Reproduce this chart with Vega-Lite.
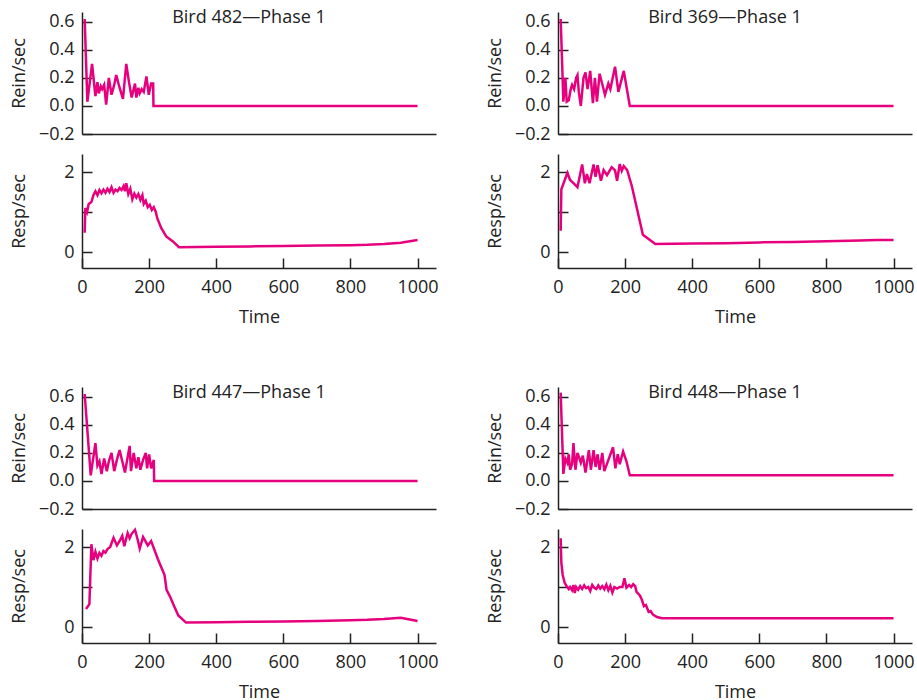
{
  "$schema": "https://vega.github.io/schema/vega-lite/v6.json",
  "padding": {"left": 10, "top": 9, "right": 0, "bottom": 0},
  "background": "white",
  "datasets": {
    "rein482": [
      {"t": 8, "v": 0.62}, {"t": 16, "v": 0.03}, {"t": 30, "v": 0.30}, {"t": 40, "v": 0.07}, {"t": 46, "v": 0.17},
      {"t": 50, "v": 0.09}, {"t": 56, "v": 0.14}, {"t": 60, "v": 0.12}, {"t": 66, "v": 0.15}, {"t": 72, "v": 0.01},
      {"t": 80, "v": 0.20}, {"t": 88, "v": 0.08}, {"t": 96, "v": 0.15}, {"t": 102, "v": 0.22}, {"t": 112, "v": 0.13},
      {"t": 122, "v": 0.05}, {"t": 132, "v": 0.30}, {"t": 140, "v": 0.17}, {"t": 148, "v": 0.06}, {"t": 154, "v": 0.12},
      {"t": 158, "v": 0.16}, {"t": 162, "v": 0.06}, {"t": 168, "v": 0.13}, {"t": 172, "v": 0.09}, {"t": 178, "v": 0.12},
      {"t": 184, "v": 0.10}, {"t": 192, "v": 0.21}, {"t": 199, "v": 0.08}, {"t": 206, "v": 0.16}, {"t": 212, "v": 0.16},
      {"t": 213, "v": 0.0}, {"t": 1000, "v": 0.0}
    ],
    "resp482": [
      {"t": 8, "v": 0.48}, {"t": 10, "v": 1.10}, {"t": 15, "v": 1.00}, {"t": 20, "v": 1.20}, {"t": 28, "v": 1.25},
      {"t": 34, "v": 1.42}, {"t": 40, "v": 1.52}, {"t": 46, "v": 1.42}, {"t": 52, "v": 1.55}, {"t": 58, "v": 1.47},
      {"t": 64, "v": 1.56}, {"t": 70, "v": 1.48}, {"t": 76, "v": 1.58}, {"t": 82, "v": 1.50}, {"t": 88, "v": 1.62},
      {"t": 94, "v": 1.48}, {"t": 100, "v": 1.56}, {"t": 106, "v": 1.52}, {"t": 112, "v": 1.60}, {"t": 118, "v": 1.55},
      {"t": 124, "v": 1.65}, {"t": 128, "v": 1.52}, {"t": 132, "v": 1.72}, {"t": 138, "v": 1.45}, {"t": 144, "v": 1.58},
      {"t": 150, "v": 1.32}, {"t": 156, "v": 1.46}, {"t": 162, "v": 1.36}, {"t": 168, "v": 1.45}, {"t": 174, "v": 1.30},
      {"t": 180, "v": 1.42}, {"t": 184, "v": 1.20}, {"t": 190, "v": 1.28}, {"t": 196, "v": 1.12}, {"t": 202, "v": 1.18},
      {"t": 208, "v": 1.05}, {"t": 214, "v": 1.12}, {"t": 220, "v": 1.00}, {"t": 224, "v": 0.85}, {"t": 236, "v": 0.60},
      {"t": 251, "v": 0.39}, {"t": 270, "v": 0.27}, {"t": 289, "v": 0.12}, {"t": 400, "v": 0.13}, {"t": 500, "v": 0.14},
      {"t": 600, "v": 0.15}, {"t": 700, "v": 0.16}, {"t": 800, "v": 0.17}, {"t": 850, "v": 0.18}, {"t": 900, "v": 0.20},
      {"t": 950, "v": 0.23}, {"t": 1000, "v": 0.30}
    ],
    "rein369": [
      {"t": 8, "v": 0.62}, {"t": 16, "v": 0.03}, {"t": 22, "v": 0.20}, {"t": 26, "v": 0.03}, {"t": 32, "v": 0.04},
      {"t": 38, "v": 0.12}, {"t": 42, "v": 0.15}, {"t": 48, "v": 0.12}, {"t": 54, "v": 0.20}, {"t": 58, "v": 0.22},
      {"t": 62, "v": 0.10}, {"t": 68, "v": 0.0}, {"t": 76, "v": 0.20}, {"t": 82, "v": 0.24}, {"t": 88, "v": 0.12},
      {"t": 96, "v": 0.25}, {"t": 104, "v": 0.02}, {"t": 110, "v": 0.20}, {"t": 116, "v": 0.03}, {"t": 124, "v": 0.23},
      {"t": 140, "v": 0.08}, {"t": 150, "v": 0.16}, {"t": 156, "v": 0.12}, {"t": 170, "v": 0.28}, {"t": 180, "v": 0.10},
      {"t": 196, "v": 0.25}, {"t": 214, "v": 0.0}, {"t": 1000, "v": 0.0}
    ],
    "resp369": [
      {"t": 8, "v": 0.53}, {"t": 10, "v": 1.57}, {"t": 18, "v": 1.75}, {"t": 28, "v": 1.98}, {"t": 36, "v": 1.80},
      {"t": 46, "v": 1.72}, {"t": 58, "v": 1.62}, {"t": 72, "v": 2.19}, {"t": 80, "v": 1.72}, {"t": 86, "v": 1.95},
      {"t": 94, "v": 1.72}, {"t": 106, "v": 2.19}, {"t": 112, "v": 1.88}, {"t": 118, "v": 2.17}, {"t": 128, "v": 1.78},
      {"t": 136, "v": 2.05}, {"t": 146, "v": 1.92}, {"t": 150, "v": 1.98}, {"t": 160, "v": 2.12}, {"t": 170, "v": 2.04},
      {"t": 176, "v": 1.78}, {"t": 184, "v": 2.20}, {"t": 190, "v": 2.03}, {"t": 196, "v": 2.15}, {"t": 206, "v": 2.05},
      {"t": 220, "v": 1.65}, {"t": 253, "v": 0.43}, {"t": 290, "v": 0.20}, {"t": 400, "v": 0.21}, {"t": 500, "v": 0.22},
      {"t": 600, "v": 0.24}, {"t": 700, "v": 0.25}, {"t": 800, "v": 0.27}, {"t": 900, "v": 0.29}, {"t": 950, "v": 0.30},
      {"t": 1000, "v": 0.30}
    ],
    "rein447": [
      {"t": 8, "v": 0.62}, {"t": 26, "v": 0.04}, {"t": 40, "v": 0.27}, {"t": 46, "v": 0.11}, {"t": 52, "v": 0.14},
      {"t": 58, "v": 0.05}, {"t": 66, "v": 0.16}, {"t": 74, "v": 0.07}, {"t": 80, "v": 0.14}, {"t": 88, "v": 0.20},
      {"t": 96, "v": 0.07}, {"t": 104, "v": 0.15}, {"t": 112, "v": 0.22}, {"t": 120, "v": 0.14}, {"t": 128, "v": 0.06},
      {"t": 142, "v": 0.25}, {"t": 146, "v": 0.07}, {"t": 154, "v": 0.20}, {"t": 162, "v": 0.09}, {"t": 168, "v": 0.17},
      {"t": 174, "v": 0.08}, {"t": 182, "v": 0.15}, {"t": 190, "v": 0.20}, {"t": 194, "v": 0.09}, {"t": 200, "v": 0.19},
      {"t": 206, "v": 0.09}, {"t": 214, "v": 0.15}, {"t": 215, "v": 0.0}, {"t": 1000, "v": 0.0}
    ],
    "resp447": [
      {"t": 12, "v": 0.45}, {"t": 22, "v": 0.57}, {"t": 28, "v": 2.07}, {"t": 34, "v": 1.67}, {"t": 40, "v": 1.88},
      {"t": 46, "v": 1.71}, {"t": 52, "v": 1.85}, {"t": 58, "v": 1.78}, {"t": 64, "v": 1.90}, {"t": 70, "v": 1.86},
      {"t": 76, "v": 1.95}, {"t": 84, "v": 2.00}, {"t": 94, "v": 2.23}, {"t": 104, "v": 2.04}, {"t": 114, "v": 2.18},
      {"t": 120, "v": 2.28}, {"t": 126, "v": 2.02}, {"t": 136, "v": 2.35}, {"t": 142, "v": 2.22}, {"t": 148, "v": 2.33},
      {"t": 158, "v": 2.43}, {"t": 166, "v": 2.18}, {"t": 172, "v": 1.96}, {"t": 182, "v": 2.25}, {"t": 196, "v": 2.04},
      {"t": 206, "v": 2.15}, {"t": 226, "v": 1.70}, {"t": 246, "v": 1.30}, {"t": 252, "v": 0.93}, {"t": 264, "v": 0.73},
      {"t": 272, "v": 0.57}, {"t": 287, "v": 0.29}, {"t": 310, "v": 0.11}, {"t": 400, "v": 0.12}, {"t": 500, "v": 0.13},
      {"t": 600, "v": 0.14}, {"t": 700, "v": 0.15}, {"t": 800, "v": 0.17}, {"t": 850, "v": 0.18}, {"t": 900, "v": 0.20},
      {"t": 950, "v": 0.23}, {"t": 1000, "v": 0.15}
    ],
    "rein448": [
      {"t": 8, "v": 0.63}, {"t": 16, "v": 0.05}, {"t": 22, "v": 0.16}, {"t": 28, "v": 0.13}, {"t": 32, "v": 0.19},
      {"t": 36, "v": 0.08}, {"t": 42, "v": 0.12}, {"t": 46, "v": 0.27}, {"t": 52, "v": 0.08}, {"t": 58, "v": 0.20},
      {"t": 64, "v": 0.16}, {"t": 68, "v": 0.13}, {"t": 74, "v": 0.18}, {"t": 82, "v": 0.06}, {"t": 92, "v": 0.22},
      {"t": 98, "v": 0.08}, {"t": 106, "v": 0.22}, {"t": 112, "v": 0.10}, {"t": 118, "v": 0.19}, {"t": 124, "v": 0.08},
      {"t": 132, "v": 0.20}, {"t": 138, "v": 0.07}, {"t": 164, "v": 0.24}, {"t": 171, "v": 0.09}, {"t": 178, "v": 0.19},
      {"t": 184, "v": 0.12}, {"t": 194, "v": 0.21}, {"t": 204, "v": 0.14}, {"t": 214, "v": 0.04}, {"t": 1000, "v": 0.04}
    ],
    "resp448": [
      {"t": 8, "v": 2.22}, {"t": 10, "v": 1.60}, {"t": 14, "v": 1.30}, {"t": 20, "v": 1.10}, {"t": 26, "v": 1.02},
      {"t": 32, "v": 0.95}, {"t": 36, "v": 1.00}, {"t": 42, "v": 0.92}, {"t": 46, "v": 1.05}, {"t": 50, "v": 0.85},
      {"t": 54, "v": 1.00}, {"t": 60, "v": 0.93}, {"t": 66, "v": 1.02}, {"t": 72, "v": 0.95}, {"t": 78, "v": 1.04},
      {"t": 84, "v": 0.97}, {"t": 90, "v": 1.00}, {"t": 96, "v": 0.90}, {"t": 102, "v": 1.05}, {"t": 108, "v": 0.98},
      {"t": 114, "v": 0.95}, {"t": 120, "v": 1.04}, {"t": 126, "v": 0.96}, {"t": 132, "v": 1.02}, {"t": 138, "v": 0.94},
      {"t": 144, "v": 1.06}, {"t": 150, "v": 0.92}, {"t": 156, "v": 1.03}, {"t": 162, "v": 0.86}, {"t": 168, "v": 1.00},
      {"t": 176, "v": 0.96}, {"t": 184, "v": 1.00}, {"t": 192, "v": 1.00}, {"t": 198, "v": 1.22}, {"t": 204, "v": 0.98},
      {"t": 212, "v": 1.05}, {"t": 218, "v": 1.00}, {"t": 224, "v": 1.07}, {"t": 230, "v": 1.02}, {"t": 234, "v": 0.88},
      {"t": 244, "v": 0.79}, {"t": 250, "v": 0.68}, {"t": 256, "v": 0.52}, {"t": 262, "v": 0.55}, {"t": 270, "v": 0.38},
      {"t": 276, "v": 0.40}, {"t": 283, "v": 0.31}, {"t": 295, "v": 0.25}, {"t": 310, "v": 0.22}, {"t": 1000, "v": 0.22}
    ]
  },
  "spacing": 58,
  "vconcat": [
    {
      "spacing": 47,
      "hconcat": [
        {
          "bounds": "flush",
          "spacing": 20,
          "vconcat": [
            {
              "width": 354, "height": 122,
              "title": {"text": "Bird 482—Phase 1", "offset": -12, "baseline": "alphabetic", "dx": -10, "dy": 17},
              "data": {"name": "rein482"},
              "mark": {"type": "line"},
              "encoding": {
                "x": {"field": "t", "type": "quantitative", "scale": {"domain": [0, 1055], "nice": false, "zero": false}, "axis": {"title": null, "labels": false, "ticks": false}},
                "y": {"field": "v", "type": "quantitative", "scale": {"domain": [-0.2, 0.67], "nice": false, "zero": false}, "axis": {"title": "Rein/sec", "values": [-0.2, 0, 0.2, 0.4, 0.6], "format": ".1f"}}
              }
            },
            {
              "width": 354, "height": 114,
              "data": {"name": "resp482"},
              "mark": {"type": "line"},
              "encoding": {
                "x": {"field": "t", "type": "quantitative", "scale": {"domain": [0, 1055], "nice": false, "zero": false}, "axis": {"title": "Time", "values": [0, 200, 400, 600, 800, 1000], "format": "d"}},
                "y": {"field": "v", "type": "quantitative", "scale": {"domain": [-0.4, 2.45], "nice": false, "zero": false}, "axis": {"title": "Resp/sec", "values": [0, 0.5, 1, 1.5, 2], "format": "d", "labelExpr": "datum.value == 0 || datum.value == 2 ? datum.label : ''"}}
              }
            }
          ]
        },
        {
          "bounds": "flush",
          "spacing": 20,
          "vconcat": [
            {
              "width": 354, "height": 122,
              "title": {"text": "Bird 369—Phase 1", "offset": -12, "baseline": "alphabetic", "dx": -10, "dy": 17},
              "data": {"name": "rein369"},
              "mark": {"type": "line"},
              "encoding": {
                "x": {"field": "t", "type": "quantitative", "scale": {"domain": [0, 1055], "nice": false, "zero": false}, "axis": {"title": null, "labels": false, "ticks": false}},
                "y": {"field": "v", "type": "quantitative", "scale": {"domain": [-0.2, 0.67], "nice": false, "zero": false}, "axis": {"title": "Rein/sec", "values": [-0.2, 0, 0.2, 0.4, 0.6], "format": ".1f"}}
              }
            },
            {
              "width": 354, "height": 114,
              "data": {"name": "resp369"},
              "mark": {"type": "line"},
              "encoding": {
                "x": {"field": "t", "type": "quantitative", "scale": {"domain": [0, 1055], "nice": false, "zero": false}, "axis": {"title": "Time", "values": [0, 200, 400, 600, 800, 1000], "format": "d"}},
                "y": {"field": "v", "type": "quantitative", "scale": {"domain": [-0.4, 2.45], "nice": false, "zero": false}, "axis": {"title": "Resp/sec", "values": [0, 0.5, 1, 1.5, 2], "format": "d", "labelExpr": "datum.value == 0 || datum.value == 2 ? datum.label : ''"}}
              }
            }
          ]
        }
      ]
    },
    {
      "spacing": 47,
      "hconcat": [
        {
          "bounds": "flush",
          "spacing": 20,
          "vconcat": [
            {
              "width": 354, "height": 122,
              "title": {"text": "Bird 447—Phase 1", "offset": -12, "baseline": "alphabetic", "dx": -10, "dy": 17},
              "data": {"name": "rein447"},
              "mark": {"type": "line"},
              "encoding": {
                "x": {"field": "t", "type": "quantitative", "scale": {"domain": [0, 1055], "nice": false, "zero": false}, "axis": {"title": null, "labels": false, "ticks": false}},
                "y": {"field": "v", "type": "quantitative", "scale": {"domain": [-0.2, 0.67], "nice": false, "zero": false}, "axis": {"title": "Rein/sec", "values": [-0.2, 0, 0.2, 0.4, 0.6], "format": ".1f"}}
              }
            },
            {
              "width": 354, "height": 114,
              "data": {"name": "resp447"},
              "mark": {"type": "line"},
              "encoding": {
                "x": {"field": "t", "type": "quantitative", "scale": {"domain": [0, 1055], "nice": false, "zero": false}, "axis": {"title": "Time", "values": [0, 200, 400, 600, 800, 1000], "format": "d"}},
                "y": {"field": "v", "type": "quantitative", "scale": {"domain": [-0.4, 2.45], "nice": false, "zero": false}, "axis": {"title": "Resp/sec", "values": [0, 0.5, 1, 1.5, 2], "format": "d", "labelExpr": "datum.value == 0 || datum.value == 2 ? datum.label : ''"}}
              }
            }
          ]
        },
        {
          "bounds": "flush",
          "spacing": 20,
          "vconcat": [
            {
              "width": 354, "height": 122,
              "title": {"text": "Bird 448—Phase 1", "offset": -12, "baseline": "alphabetic", "dx": -10, "dy": 17},
              "data": {"name": "rein448"},
              "mark": {"type": "line"},
              "encoding": {
                "x": {"field": "t", "type": "quantitative", "scale": {"domain": [0, 1055], "nice": false, "zero": false}, "axis": {"title": null, "labels": false, "ticks": false}},
                "y": {"field": "v", "type": "quantitative", "scale": {"domain": [-0.2, 0.67], "nice": false, "zero": false}, "axis": {"title": "Rein/sec", "values": [-0.2, 0, 0.2, 0.4, 0.6], "format": ".1f"}}
              }
            },
            {
              "width": 354, "height": 114,
              "data": {"name": "resp448"},
              "mark": {"type": "line"},
              "encoding": {
                "x": {"field": "t", "type": "quantitative", "scale": {"domain": [0, 1055], "nice": false, "zero": false}, "axis": {"title": "Time", "values": [0, 200, 400, 600, 800, 1000], "format": "d"}},
                "y": {"field": "v", "type": "quantitative", "scale": {"domain": [-0.4, 2.45], "nice": false, "zero": false}, "axis": {"title": "Resp/sec", "values": [0, 0.5, 1, 1.5, 2], "format": "d", "labelExpr": "datum.value == 0 || datum.value == 2 ? datum.label : ''"}}
              }
            }
          ]
        }
      ]
    }
  ],
  "config": {
    "font": "Open Sans",
    "view": {"stroke": null},
    "axis": {
      "domainColor": "#222222", "tickColor": "#222222", "labelColor": "#222222", "titleColor": "#222222",
      "labelFont": "Open Sans", "titleFont": "Open Sans", "labelFontSize": 18, "titleFontSize": 18,
      "titleFontWeight": "normal", "grid": false, "domainWidth": 1.5, "tickWidth": 1.5, "tickSize": -10,
      "labelFlush": false, "labelOverlap": false
    },
    "axisY": {"labelPadding": 18, "titleX": -58, "titleBaseline": "alphabetic"},
    "axisX": {"labelPadding": 20, "titlePadding": 12},
    "title": {"font": "Open Sans", "fontSize": 18, "fontWeight": "normal", "color": "#222222"},
    "line": {"color": "#e6007e", "strokeWidth": 2.5}
  }
}
